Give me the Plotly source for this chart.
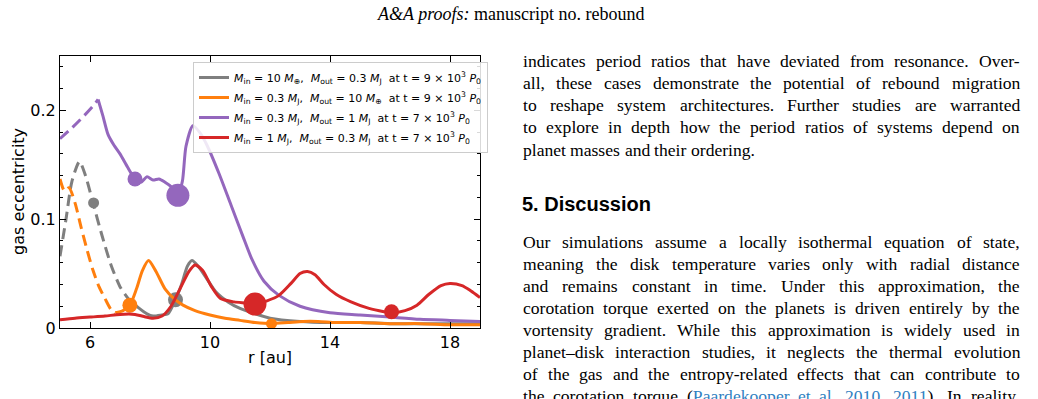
import re
import plotly.graph_objects as go

# ---------------- data ----------------
gray_r_dash = [5.0, 5.2, 5.4, 5.65, 5.85, 6.1, 6.4, 6.7, 7.0, 7.3]
gray_e_dash = [0.066, 0.100, 0.135, 0.153, 0.140, 0.115, 0.085, 0.058, 0.038, 0.026]
gray_r = [7.3, 7.6, 7.9, 8.1, 8.4, 8.6, 8.85, 9.05, 9.25, 9.4, 9.6, 9.9, 10.2, 10.6, 11.0, 11.4, 12.0, 13.0, 14.0, 15.0, 16.0, 17.0, 18.0, 19.0]
gray_e = [0.026, 0.019, 0.013, 0.011, 0.012, 0.013, 0.026, 0.040, 0.057, 0.062, 0.057, 0.045, 0.033, 0.024, 0.018, 0.014, 0.009, 0.006, 0.005, 0.005, 0.004, 0.004, 0.004, 0.004]

orange_r_dash = [5.0, 5.15, 5.3, 5.5, 5.7, 5.9, 6.1, 6.3, 6.5, 6.7, 6.85]
orange_e_dash = [0.137, 0.126, 0.129, 0.115, 0.093, 0.072, 0.053, 0.038, 0.027, 0.017, 0.014]
orange_r = [6.85, 7.1, 7.33, 7.55, 7.75, 7.95, 8.2, 8.5, 8.8, 9.1, 9.5, 10.0, 10.5, 11.0, 11.5, 12.05, 12.6, 13.1, 13.6, 14.2, 15.0, 16.0, 17.0, 18.0, 19.0]
orange_e = [0.014, 0.016, 0.021, 0.036, 0.053, 0.062, 0.052, 0.036, 0.027, 0.021, 0.016, 0.012, 0.009, 0.007, 0.005, 0.004, 0.005, 0.006, 0.006, 0.005, 0.005, 0.004, 0.004, 0.003, 0.003]

purple_r_dash = [5.0, 5.4, 5.8, 6.1, 6.27]
purple_e_dash = [0.174, 0.184, 0.195, 0.204, 0.210]
purple_r = [6.27, 6.43, 6.6, 6.8, 7.0, 7.25, 7.5, 7.7, 7.9, 8.1, 8.3, 8.5, 8.7, 8.93, 9.08, 9.2, 9.43, 9.65, 9.9, 10.3, 10.7, 11.1, 11.4, 11.8, 12.3, 13.0, 14.0, 15.0, 16.0, 17.0, 18.0, 19.0]
purple_e = [0.210, 0.195, 0.178, 0.168, 0.160, 0.148, 0.137, 0.134, 0.139, 0.136, 0.137, 0.134, 0.130, 0.122, 0.135, 0.167, 0.186, 0.180, 0.168, 0.142, 0.113, 0.084, 0.063, 0.043, 0.030, 0.020, 0.014, 0.012, 0.010, 0.008, 0.007, 0.006]

red_r = [5.0, 5.5, 6.0, 6.5, 7.0, 7.5, 7.8, 8.1, 8.4, 8.7, 9.0, 9.3, 9.5, 9.75, 10.05, 10.35, 10.8, 11.2, 11.5, 11.9, 12.3, 12.7, 13.0, 13.25, 13.5, 13.8, 14.2, 14.7, 15.3, 15.8, 16.05, 16.5, 16.9, 17.3, 17.7, 18.0, 18.4, 18.7, 19.0]
red_e = [0.0075, 0.009, 0.010, 0.011, 0.0125, 0.0125, 0.0105, 0.009, 0.011, 0.020, 0.036, 0.052, 0.058, 0.053, 0.038, 0.027, 0.024, 0.023, 0.022, 0.025, 0.030, 0.041, 0.050, 0.052, 0.049, 0.040, 0.031, 0.024, 0.018, 0.015, 0.014, 0.016, 0.021, 0.031, 0.039, 0.041, 0.039, 0.034, 0.028]

# planets: positions, eccentricity at planet, mass class
gray_planet_r = [6.12, 8.85]
gray_planet_e = [0.115, 0.026]
gray_planet_m = ["10ME", "0.3MJ"]
orange_planet_r = [7.33, 12.05]
orange_planet_e = [0.021, 0.004]
orange_planet_m = ["0.3MJ", "10ME"]
purple_planet_r = [7.5, 8.93]
purple_planet_e = [0.137, 0.122]
purple_planet_m = ["0.3MJ", "1MJ"]
red_planet_r = [11.5, 16.05]
red_planet_e = [0.022, 0.015]
red_planet_m = ["1MJ", "0.3MJ"]

legend_labels = [
    "<i>M</i><sub>in</sub> = 10 <i>M</i><sub>⊕</sub>,  <i>M</i><sub>out</sub> = 0.3 <i>M</i><sub>J</sub>  at t = 9 × 10<sup>3</sup> <i>P</i><sub>0</sub>",
    "<i>M</i><sub>in</sub> = 0.3 <i>M</i><sub>J</sub>,  <i>M</i><sub>out</sub> = 10 <i>M</i><sub>⊕</sub>  at t = 9 × 10<sup>3</sup> <i>P</i><sub>0</sub>",
    "<i>M</i><sub>in</sub> = 0.3 <i>M</i><sub>J</sub>,  <i>M</i><sub>out</sub> = 1 <i>M</i><sub>J</sub>  at t = 7 × 10<sup>3</sup> <i>P</i><sub>0</sub>",
    "<i>M</i><sub>in</sub> = 1 <i>M</i><sub>J</sub>,  <i>M</i><sub>out</sub> = 0.3 <i>M</i><sub>J</sub>  at t = 7 × 10<sup>3</sup> <i>P</i><sub>0</sub>",
]

x_ticks = [6, 10, 14, 18]
y_ticks = [0, 0.1, 0.2]
y_ticklabels = ["0", "0.1", "0.2"]

header_text = "<i>A&amp;A proofs:</i> manuscript no. rebound"
para1 = [
    "indicates period ratios that have deviated from resonance. Over-",
    "all, these cases demonstrate the potential of rebound migration",
    "to reshape system architectures. Further studies are warranted",
    "to explore in depth how the period ratios of systems depend on",
    "planet masses and their ordering.",
]
section_title = "5. Discussion"
LINK = "<span style='color:#2f7fc1'>{}</span>"
para2 = [
    "Our simulations assume a locally isothermal equation of state,",
    "meaning the disk temperature varies only with radial distance",
    "and remains constant in time. Under this approximation, the",
    "corotation torque exerted on the planets is driven entirely by the",
    "vortensity gradient. While this approximation is widely used in",
    "planet–disk interaction studies, it neglects the thermal evolution",
    "of the gas and the entropy-related effects that can contribute to",
    "the corotation torque (" + LINK.format("Paardekooper") + " " + LINK.format("et") + " "
    + LINK.format("al.") + " " + LINK.format("2010") + ", " + LINK.format("2011") + "). In reality,",
]

# ---------------- style ----------------
W = 1038
H_LAYOUT = 399
H_EFF = 389          # vertical extent the page actually renders the figure at
colors = ["#7f7f7f", "#ff7f0e", "#9467bd", "#d62728"]
msize = {"10ME": 11, "0.3MJ": 15, "1MJ": 23}
LW = 3
PLOT_L, PLOT_R, PLOT_T, PLOT_B = 60, 480, 56, 328
TXT_L, TXT_R = 522, 1019
BODY_SIZE = 17.6
BODY_FONT = "Liberation Serif"

# Times-Roman advance widths (per 1000 em)
TW = {' ': 250, ',': 250, '.': 250, '-': 333, '–': 500, '(': 333, ')': 333, ':': 278, ';': 278,
      'A': 722, 'B': 667, 'C': 667, 'D': 722, 'E': 611, 'F': 556, 'G': 722, 'H': 722, 'I': 333,
      'J': 389, 'K': 722, 'L': 611, 'M': 889, 'N': 722, 'O': 722, 'P': 556, 'Q': 722, 'R': 667,
      'S': 556, 'T': 611, 'U': 722, 'V': 722, 'W': 944, 'X': 722, 'Y': 722, 'Z': 611,
      'a': 444, 'b': 500, 'c': 444, 'd': 500, 'e': 444, 'f': 333, 'g': 500, 'h': 500, 'i': 278,
      'j': 278, 'k': 500, 'l': 278, 'm': 778, 'n': 500, 'o': 500, 'p': 500, 'q': 500, 'r': 333,
      's': 389, 't': 278, 'u': 500, 'v': 500, 'w': 722, 'x': 500, 'y': 500, 'z': 444}


def word_width(w, size):
    plain = re.sub(r"<[^>]+>", "", w)
    return sum(TW.get(ch, 500) for ch in plain) * size / 1000.0


def split_words(line):
    # split on spaces that are not inside an html tag
    return re.split(r" (?![^<]*>)", line)


def px(x):
    return x / W


def py(y):
    return 1 - y / H_EFF


series = [
    (gray_r_dash, gray_e_dash, gray_r, gray_e, gray_planet_r, gray_planet_e, gray_planet_m),
    (orange_r_dash, orange_e_dash, orange_r, orange_e, orange_planet_r, orange_planet_e, orange_planet_m),
    (purple_r_dash, purple_e_dash, purple_r, purple_e, purple_planet_r, purple_planet_e, purple_planet_m),
    (None, None, red_r, red_e, red_planet_r, red_planet_e, red_planet_m),
]

fig = go.Figure()
for i, (rd, ed, rs, es, pr, pe, pm) in enumerate(series):
    c = colors[i]
    if rd is not None:
        fig.add_trace(go.Scatter(x=rd, y=ed, mode="lines", showlegend=False, legendgroup=f"g{i}",
                                 line=dict(color=c, width=LW, dash="11px,6px", shape="spline", smoothing=0.7),
                                 hoverinfo="skip"))
    fig.add_trace(go.Scatter(x=rs, y=es, mode="lines", name=legend_labels[i], legendgroup=f"g{i}",
                             line=dict(color=c, width=LW, shape="spline", smoothing=0.7)))
    fig.add_trace(go.Scatter(x=pr, y=pe, mode="markers", showlegend=False, legendgroup=f"g{i}",
                             marker=dict(color=c, opacity=1, size=[msize[m] for m in pm], line=dict(width=0))))

axis_common = dict(showline=True, linecolor="black", linewidth=1, mirror="allticks",
                   ticks="inside", ticklen=6, tickwidth=1, tickcolor="black",
                   showgrid=False, zeroline=False,
                   tickfont=dict(family="DejaVu Sans", size=16, color="black"))

fig.update_xaxes(range=[5, 19], tickvals=x_ticks, domain=[px(PLOT_L), px(PLOT_R)],
                 **axis_common)
fig.update_yaxes(range=[0, 0.25], tickvals=y_ticks, ticktext=y_ticklabels,
                 domain=[py(PLOT_B), py(PLOT_T)],
                 minor=dict(ticks="inside", ticklen=3, tickwidth=1, tickcolor="black", dtick=0.02, tick0=0),
                 **axis_common)

ann = []
ann.append(dict(text="gas eccentricity", x=px(18), y=py(192), textangle=-90, xanchor="center",
                font=dict(family="DejaVu Sans", size=16, color="black")))
ann.append(dict(text="r [au]", x=px(270), y=py(357), xanchor="center",
                font=dict(family="DejaVu Sans", size=16, color="black")))
ann.append(dict(text=header_text, x=px(510), y=py(14), xanchor="center",
                font=dict(family=BODY_FONT, size=18, color="black")))
ann.append(dict(text="<b>" + section_title + "</b>", x=px(520), y=py(204), xanchor="left",
                font=dict(family="Liberation Sans", size=20, color="black")))


def add_paragraph(lines, y0, dy, last_is_end):
    for k, line in enumerate(lines):
        y = y0 + k * dy
        words = split_words(line)
        justify = not (last_is_end and k == len(lines) - 1)
        widths = [word_width(w, BODY_SIZE) for w in words]
        if justify and len(words) > 1:
            gap = (TXT_R - TXT_L - sum(widths)) / (len(words) - 1)
        else:
            gap = TW[' '] * BODY_SIZE / 1000.0
        x = TXT_L
        for w, ww in zip(words, widths):
            ann.append(dict(text=w, x=px(x), y=py(y), xanchor="left", borderpad=0,
                            font=dict(family=BODY_FONT, size=BODY_SIZE, color="black")))
            x += ww + gap


add_paragraph(para1, 60.5, 22.3, True)
add_paragraph(para2, 241.5, 22.0, False)

for a in ann:
    a.update(xref="paper", yref="paper", yanchor="middle", showarrow=False)

fig.update_layout(
    width=W, height=H_LAYOUT,
    margin=dict(l=0, r=0, t=0, b=0),
    paper_bgcolor="white", plot_bgcolor="white",
    annotations=ann,
    legend=dict(x=px(193), y=py(62), xanchor="left", yanchor="top",
                bgcolor="rgba(255,255,255,0.85)", bordercolor="#cccccc", borderwidth=1,
                font=dict(family="DejaVu Sans", size=11, color="black"),
                itemwidth=30, tracegroupgap=1, traceorder="grouped"),
    showlegend=True,
)

fig.write_html("out.html")
